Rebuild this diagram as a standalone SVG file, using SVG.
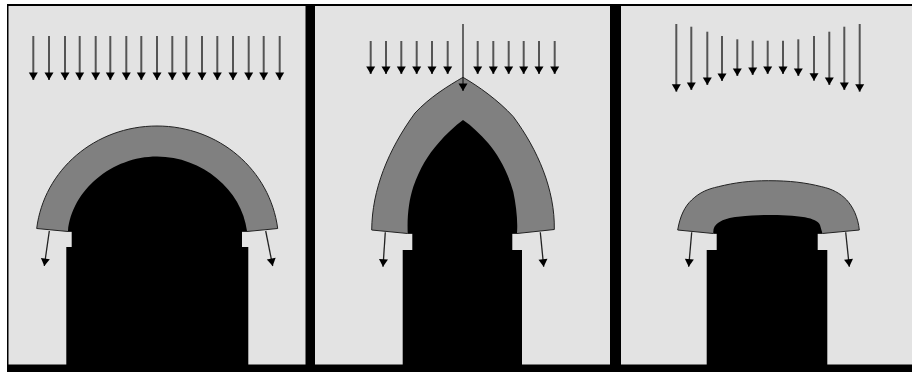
<svg xmlns="http://www.w3.org/2000/svg" width="912" height="372" viewBox="0 0 912 372">
<style>
.panel{fill:#e3e3e3}
.arch{fill:#808080;stroke:#222;stroke-width:1}
.solid{fill:#000}
.a{fill:none;stroke:#555;stroke-width:2;marker-end:url(#h)}
.t{fill:none;stroke:#222;stroke-width:1.3;marker-end:url(#h)}
</style>
<defs>
<marker id="h" markerUnits="userSpaceOnUse" markerWidth="9" markerHeight="10" refX="8" refY="5" orient="auto" viewBox="0 0 9 10">
<path d="M0.500,0.500 L8,5 L0.500,9.500 Z" fill="#000"/>
</marker>
</defs>
<rect width="912" height="372" fill="#fff"/>
<rect x="7" y="4" width="905" height="368" fill="#000"/>
<rect class="panel" x="8.500" y="6" width="297" height="358.500"/>
<rect class="panel" x="315" y="6" width="295" height="358.500"/>
<rect class="panel" x="621" y="6" width="291" height="358.500"/>

<g id="arch-round">
<path class="arch" d="M36.700,228.500 C44,170 95,126 157,126 C219,126 270,170 277.700,228.500 L247,231.500 L68,231.500 Z"/>
<path class="solid" d="M66.300,365 V247 H71.700 V231 H68 C72,190 112,156.500 157,156.500 C202,156.500 242,190 247,231 H242 V247 H248.300 V365 Z"/>
</g>
<g id="arch-pointed">
<path class="arch" d="M371.700,230 C372,190 388,150 415,113 C430,97 448,86 463,77.300 C478,86 498,100 513.300,116.700 C538,150 555,190 554.300,229.500 L517,233.500 L407.700,233.500 Z"/>
<path class="solid" d="M402.700,365 V250 H412.300 V233 H407.700 C407,215 409,200 413.300,186.700 C420,168 428,155 438.300,143.300 C446,134 455,126 463,120 C472,126 480,134 488.300,143.300 C498,155 507,170 513.300,191.700 C516,205 518,220 517,233 H512.300 V250 H522 V365 Z"/>
</g>
<g id="arch-flat">
<path class="arch" d="M677.700,230 C680,216 685,206 691.700,200 C700,192 708,189 718.300,186.700 C735,182.500 750,180.700 768.300,180.700 C790,180.700 805,182.500 821.700,186.700 C832,189 840,193 846.700,200 C853,207 858,217 859.300,230 L822.300,233.500 L713.300,233.500 Z"/>
<path class="solid" d="M706.700,365 V250 H716.700 V233 H713.300 C713,228 715,225 718.300,222.700 C724,219 730,217.500 738,216.700 C750,215.500 760,215 768.300,215 C780,215 795,215.500 805,217.300 C813,219 818,221 820,225 L822.300,233 H817.700 V250 H827.300 V365 Z"/>
</g>

<g id="connectors">
<path class="a" d="M33.300,36V80"/><path class="a" d="M49,36V80"/><path class="a" d="M65,36V80"/><path class="a" d="M79.700,36V80"/><path class="a" d="M95.700,36V80"/><path class="a" d="M110.300,36V80"/><path class="a" d="M126.300,36V80"/><path class="a" d="M141.300,36V80"/><path class="a" d="M157,36V80"/><path class="a" d="M172.300,36V80"/><path class="a" d="M186.300,36V80"/><path class="a" d="M202,36V80"/><path class="a" d="M217.300,36V80"/><path class="a" d="M233,36V80"/><path class="a" d="M248.700,36V80"/><path class="a" d="M263.700,36V80"/><path class="a" d="M279.700,36V80"/>
<path class="t" d="M49.300,231L44.300,266"/><path class="t" d="M265.700,231L272.700,266"/>

<path class="a" d="M370.700,41V74"/><path class="a" d="M386,41V74"/><path class="a" d="M401.300,41V74"/><path class="a" d="M416.700,41V74"/><path class="a" d="M432,41V74"/><path class="a" d="M447.700,41V74"/><path class="t" d="M463,24V91"/><path class="a" d="M477.700,41V74"/><path class="a" d="M493.300,41V74"/><path class="a" d="M508.700,41V74"/><path class="a" d="M523.700,41V74"/><path class="a" d="M539,41V74"/><path class="a" d="M554.700,41V74"/>
<path class="t" d="M385.300,232.300L383,266.700"/><path class="t" d="M540.300,232.300L543.700,266.700"/>

<path class="a" d="M676.300,24V91.700"/><path class="a" d="M691.300,26.700V90"/><path class="a" d="M707.300,31.700V85"/><path class="a" d="M722,36V81"/><path class="a" d="M737.300,39.300V76"/><path class="a" d="M752.700,40.700V75"/><path class="a" d="M767.700,40.700V74"/><path class="a" d="M783,40.700V74"/><path class="a" d="M798.300,39.300V76"/><path class="a" d="M814,36V80.700"/><path class="a" d="M829.300,31.700V85"/><path class="a" d="M844.300,26.700V90"/><path class="a" d="M859.700,24V91.700"/>
<path class="t" d="M691.700,232.300L688.700,266.700"/><path class="t" d="M845.700,232.300L849.300,266.700"/>
</g>
</svg>
